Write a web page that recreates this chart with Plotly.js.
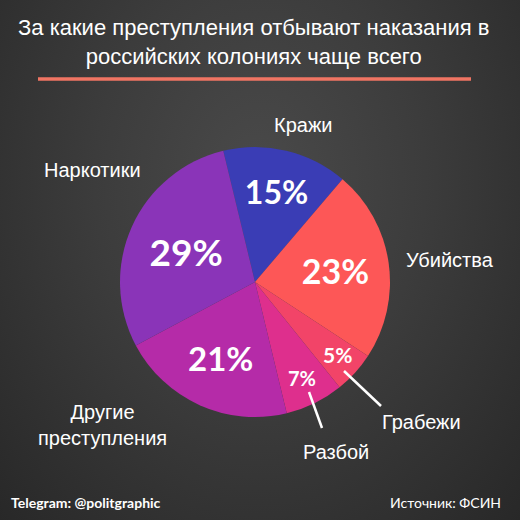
<!DOCTYPE html>
<html><head><meta charset="utf-8">
<script src="https://cdn.plot.ly/plotly-3.0.1.min.js"></script>
<style>
html,body{margin:0;padding:0;}
body{width:520px;height:520px;background:radial-gradient(ellipse at 50% 35%, #4a4a4a 0%, #3c3c3c 45%, #282828 100%);}
#chart{width:520px;height:520px;}
</style></head><body>
<div id="chart"></div>
<script>
const categories = ['Кражи', 'Убийства', 'Грабежи', 'Разбой', 'Другие<br>преступления', 'Наркотики'];
const values = [15, 23, 5, 7, 21, 29];
const colors = ['#3a3db5', '#fd5757', '#f24468', '#de2f8d', '#b52ba8', '#8a34b8'];
const textSizes = [32, 34, 21, 20, 33, 37];
const titleText = 'За какие преступления отбывают наказания в<br>российских колониях чаще всего';

const W = 520, H = 520;
// outside category label positions (px)
const labelPos = [[303, 125], [450, 260], [421, 422], [336, 452], [102, 425], [92, 170]];
// small slices: percentage drawn outside pie's auto-fit (px)
const smallTextPos = {2: [337, 354], 3: [302, 378]};

const annotations = categories.map((c, i) => ({
  text: c, xref: 'paper', yref: 'paper', x: labelPos[i][0] / W, y: 1 - labelPos[i][1] / H,
  xanchor: 'center', yanchor: 'middle', showarrow: false,
  font: {family: 'Liberation Sans, Arial, sans-serif', size: 20, color: '#ffffff'}
}));
Object.keys(smallTextPos).forEach(k => {
  const i = +k;
  annotations.push({
    text: '<b>' + values[i] + '%</b>', xref: 'paper', yref: 'paper',
    x: smallTextPos[k][0] / W, y: 1 - smallTextPos[k][1] / H, xanchor: 'center', yanchor: 'middle',
    showarrow: false, font: {family: 'Lato, sans-serif', size: textSizes[i], color: '#ffffff'}
  });
});
annotations.push({
  text: titleText, xref: 'paper', yref: 'paper', x: 0.488, y: 1 - 42 / H, xanchor: 'center', yanchor: 'middle',
  showarrow: false, font: {family: 'Liberation Sans, Arial, sans-serif', size: 22, color: '#ffffff'}
});
annotations.push({
  text: '<b>Telegram: @politgraphic</b>', xref: 'paper', yref: 'paper', x: 9 / W, y: 1 - 502 / H,
  xanchor: 'left', yanchor: 'middle', showarrow: false,
  font: {family: 'Lato, sans-serif', size: 14, color: '#ffffff'}
});
annotations.push({
  text: 'Источник: ФСИН', xref: 'paper', yref: 'paper', x: 503 / W, y: 1 - 502 / H,
  xanchor: 'right', yanchor: 'middle', showarrow: false,
  font: {family: 'Lato, sans-serif', size: 14, color: '#ffffff'}
});

const shapes = [
  {type: 'line', xref: 'paper', yref: 'paper', x0: 38 / W, x1: 471 / W, y0: 1 - 79 / H, y1: 1 - 79 / H,
   line: {color: '#f07563', width: 3.5}},
  {type: 'line', xref: 'paper', yref: 'paper', x0: 344 / W, x1: 381 / W, y0: 1 - 371 / H, y1: 1 - 406 / H,
   line: {color: '#ffffff', width: 2.5}},
  {type: 'line', xref: 'paper', yref: 'paper', x0: 309 / W, x1: 322 / W, y0: 1 - 392 / H, y1: 1 - 428 / H,
   line: {color: '#ffffff', width: 2.5}}
];

const cx = 255, cy = 282, r = 135;
const textPositions = values.map((v, i) => (i in smallTextPos) ? 'none' : 'inside');
const data = [{
  type: 'pie', values: values, labels: categories, sort: false, direction: 'clockwise', rotation: -13.6,
  marker: {colors: colors, line: {width: 0}},
  texttemplate: '<b>%{value}%</b>', textinfo: 'text', textposition: textPositions,
  insidetextorientation: 'horizontal',
  insidetextfont: {family: 'Lato, sans-serif', size: textSizes, color: '#ffffff'},
  domain: {x: [(cx - r) / W, (cx + r) / W], y: [1 - (cy + r) / H, 1 - (cy - r) / H]},
  showlegend: false, hoverinfo: 'none'
}];

const layout = {
  width: W, height: H, margin: {l: 0, r: 0, t: 0, b: 0},
  paper_bgcolor: 'rgba(0,0,0,0)', plot_bgcolor: 'rgba(0,0,0,0)',
  annotations: annotations, shapes: shapes, showlegend: false
};
Plotly.newPlot('chart', data, layout, {displayModeBar: false, staticPlot: true});
</script>
</body></html>
